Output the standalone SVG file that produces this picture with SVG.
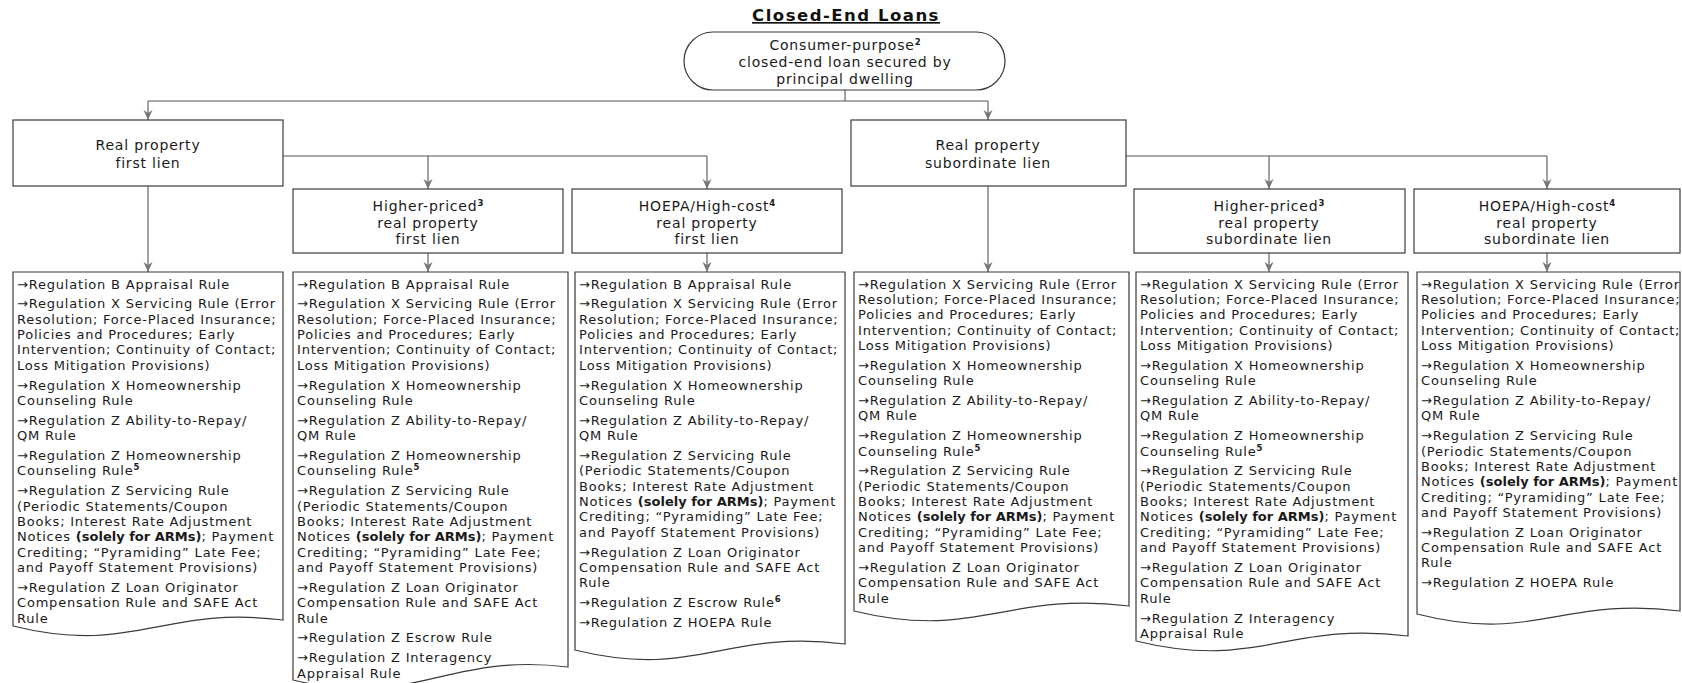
<svg xmlns="http://www.w3.org/2000/svg" width="1682" height="683" viewBox="0 0 1682 683">
<defs>
<marker id="arr" markerUnits="userSpaceOnUse" markerWidth="10" markerHeight="10" viewBox="0 0 10 10" refX="10" refY="5" orient="auto"><path d="M0,0.5 L10,5 L0,9.5 L3,5 Z" fill="#777"/></marker>
<style>
.box{fill:#fff;stroke:#3a3a3a;stroke-width:1.2}
.hd{font-family:"DejaVu Sans","Open Sans",sans-serif;font-size:14px;letter-spacing:0.8px;fill:#1a1a1a;text-anchor:middle}
.bd{font-family:"DejaVu Sans","Open Sans",sans-serif;font-size:13px;letter-spacing:0.8px;fill:#1a1a1a}
.sup{font-size:8.5px;font-weight:bold;letter-spacing:0}
.b{font-weight:bold;letter-spacing:0}
.con{fill:none;stroke:#555;stroke-width:1.1}
.title{font-family:"DejaVu Sans","Open Sans",sans-serif;font-size:16.5px;font-weight:bold;letter-spacing:1.5px;fill:#111;text-anchor:middle;text-decoration:underline}
</style>
</defs>
<rect width="1682" height="683" fill="#fff"/>
<text class="title" x="846" y="21">Closed-End Loans</text>

<g id="connectors">
<path class="con" d="M845,90 V101"/>
<path class="con" d="M148,101 H988"/>
<path class="con" d="M148,101 V120" marker-end="url(#arr)"/>
<path class="con" d="M988,101 V120" marker-end="url(#arr)"/>
<path class="con" d="M283,156 H707"/>
<path class="con" d="M428,156 V189" marker-end="url(#arr)"/>
<path class="con" d="M707,156 V189" marker-end="url(#arr)"/>
<path class="con" d="M1126,156 H1547"/>
<path class="con" d="M1269,156 V189" marker-end="url(#arr)"/>
<path class="con" d="M1547,156 V189" marker-end="url(#arr)"/>
<path class="con" d="M148,186 V272" marker-end="url(#arr)"/>
<path class="con" d="M428,253 V272" marker-end="url(#arr)"/>
<path class="con" d="M707,253 V272" marker-end="url(#arr)"/>
<path class="con" d="M988,186 V272" marker-end="url(#arr)"/>
<path class="con" d="M1269,253 V272" marker-end="url(#arr)"/>
<path class="con" d="M1547,253 V272" marker-end="url(#arr)"/>
</g>

<g id="root">
<rect class="box" x="684" y="32" width="321" height="58" rx="29"/>
<text class="hd"><tspan x="845" y="50">Consumer-purpose<tspan class="sup" baseline-shift="5">2</tspan></tspan><tspan x="845" y="67">closed-end loan secured by</tspan><tspan x="845" y="84">principal dwelling</tspan></text>
</g>

<g id="first-lien">
<rect class="box" x="13" y="120" width="270" height="66"/>
<text class="hd"><tspan x="148" y="149.5">Real property</tspan><tspan x="148" y="167.5">first lien</tspan></text>
</g>
<g id="sub-lien">
<rect class="box" x="851" y="120" width="275" height="66"/>
<text class="hd"><tspan x="988" y="149.5">Real property</tspan><tspan x="988" y="167.5">subordinate lien</tspan></text>
</g>
<g id="hp-first">
<rect class="box" x="293" y="189" width="270" height="64"/>
<text class="hd"><tspan x="428" y="211">Higher-priced<tspan class="sup" baseline-shift="5">3</tspan></tspan><tspan x="428" y="227.5">real property</tspan><tspan x="428" y="244">first lien</tspan></text>
</g>
<g id="hc-first">
<rect class="box" x="572" y="189" width="270" height="64"/>
<text class="hd"><tspan x="707" y="211">HOEPA/High-cost<tspan class="sup" baseline-shift="5">4</tspan></tspan><tspan x="707" y="227.5">real property</tspan><tspan x="707" y="244">first lien</tspan></text>
</g>
<g id="hp-sub">
<rect class="box" x="1134" y="189" width="271" height="64"/>
<text class="hd"><tspan x="1269" y="211">Higher-priced<tspan class="sup" baseline-shift="5">3</tspan></tspan><tspan x="1269" y="227.5">real property</tspan><tspan x="1269" y="244">subordinate lien</tspan></text>
</g>
<g id="hc-sub">
<rect class="box" x="1414" y="189" width="266" height="64"/>
<text class="hd"><tspan x="1547" y="211">HOEPA/High-cost<tspan class="sup" baseline-shift="5">4</tspan></tspan><tspan x="1547" y="227.5">real property</tspan><tspan x="1547" y="244">subordinate lien</tspan></text>
</g>

<g id="rules-first">
<path class="box" d="M13,272 H283 V620 C161.5,605 134.5,656 13,626 Z"/>
<text class="bd">
<tspan x="17" y="288.5">→Regulation B Appraisal Rule</tspan>
<tspan x="17" dy="19.85">→Regulation X Servicing Rule (Error</tspan>
<tspan x="17" dy="15.35">Resolution; Force-Placed Insurance;</tspan>
<tspan x="17" dy="15.35">Policies and Procedures; Early</tspan>
<tspan x="17" dy="15.35">Intervention; Continuity of Contact;</tspan>
<tspan x="17" dy="15.35">Loss Mitigation Provisions)</tspan>
<tspan x="17" dy="19.85">→Regulation X Homeownership</tspan>
<tspan x="17" dy="15.35">Counseling Rule</tspan>
<tspan x="17" dy="19.85">→Regulation Z Ability-to-Repay/</tspan>
<tspan x="17" dy="15.35">QM Rule</tspan>
<tspan x="17" dy="19.85">→Regulation Z Homeownership</tspan>
<tspan x="17" dy="15.35">Counseling Rule<tspan class="sup" baseline-shift="5">5</tspan></tspan>
<tspan x="17" dy="19.85">→Regulation Z Servicing Rule</tspan>
<tspan x="17" dy="15.35">(Periodic Statements/Coupon</tspan>
<tspan x="17" dy="15.35">Books; Interest Rate Adjustment</tspan>
<tspan x="17" dy="15.35">Notices <tspan class="b">(solely for ARMs)</tspan>; Payment</tspan>
<tspan x="17" dy="15.35">Crediting; “Pyramiding” Late Fee;</tspan>
<tspan x="17" dy="15.35">and Payoff Statement Provisions)</tspan>
<tspan x="17" dy="19.85">→Regulation Z Loan Originator</tspan>
<tspan x="17" dy="15.35">Compensation Rule and SAFE Act</tspan>
<tspan x="17" dy="15.35">Rule</tspan>
</text>
</g>

<g id="rules-hp-first">
<path class="box" d="M293,272 H568 V667 C444.25,652 416.75,710 293,680 Z"/>
<text class="bd">
<tspan x="297" y="288.5">→Regulation B Appraisal Rule</tspan>
<tspan x="297" dy="19.85">→Regulation X Servicing Rule (Error</tspan>
<tspan x="297" dy="15.35">Resolution; Force-Placed Insurance;</tspan>
<tspan x="297" dy="15.35">Policies and Procedures; Early</tspan>
<tspan x="297" dy="15.35">Intervention; Continuity of Contact;</tspan>
<tspan x="297" dy="15.35">Loss Mitigation Provisions)</tspan>
<tspan x="297" dy="19.85">→Regulation X Homeownership</tspan>
<tspan x="297" dy="15.35">Counseling Rule</tspan>
<tspan x="297" dy="19.85">→Regulation Z Ability-to-Repay/</tspan>
<tspan x="297" dy="15.35">QM Rule</tspan>
<tspan x="297" dy="19.85">→Regulation Z Homeownership</tspan>
<tspan x="297" dy="15.35">Counseling Rule<tspan class="sup" baseline-shift="5">5</tspan></tspan>
<tspan x="297" dy="19.85">→Regulation Z Servicing Rule</tspan>
<tspan x="297" dy="15.35">(Periodic Statements/Coupon</tspan>
<tspan x="297" dy="15.35">Books; Interest Rate Adjustment</tspan>
<tspan x="297" dy="15.35">Notices <tspan class="b">(solely for ARMs)</tspan>; Payment</tspan>
<tspan x="297" dy="15.35">Crediting; “Pyramiding” Late Fee;</tspan>
<tspan x="297" dy="15.35">and Payoff Statement Provisions)</tspan>
<tspan x="297" dy="19.85">→Regulation Z Loan Originator</tspan>
<tspan x="297" dy="15.35">Compensation Rule and SAFE Act</tspan>
<tspan x="297" dy="15.35">Rule</tspan>
<tspan x="297" dy="19.85">→Regulation Z Escrow Rule</tspan>
<tspan x="297" dy="19.85">→Regulation Z Interagency</tspan>
<tspan x="297" dy="15.35">Appraisal Rule</tspan>
</text>
</g>

<g id="rules-hc-first">
<path class="box" d="M575,272 H845 V644 C723.5,629 696.5,680 575,650 Z"/>
<text class="bd">
<tspan x="579" y="288.5">→Regulation B Appraisal Rule</tspan>
<tspan x="579" dy="19.85">→Regulation X Servicing Rule (Error</tspan>
<tspan x="579" dy="15.35">Resolution; Force-Placed Insurance;</tspan>
<tspan x="579" dy="15.35">Policies and Procedures; Early</tspan>
<tspan x="579" dy="15.35">Intervention; Continuity of Contact;</tspan>
<tspan x="579" dy="15.35">Loss Mitigation Provisions)</tspan>
<tspan x="579" dy="19.85">→Regulation X Homeownership</tspan>
<tspan x="579" dy="15.35">Counseling Rule</tspan>
<tspan x="579" dy="19.85">→Regulation Z Ability-to-Repay/</tspan>
<tspan x="579" dy="15.35">QM Rule</tspan>
<tspan x="579" dy="19.85">→Regulation Z Servicing Rule</tspan>
<tspan x="579" dy="15.35">(Periodic Statements/Coupon</tspan>
<tspan x="579" dy="15.35">Books; Interest Rate Adjustment</tspan>
<tspan x="579" dy="15.35">Notices <tspan class="b">(solely for ARMs)</tspan>; Payment</tspan>
<tspan x="579" dy="15.35">Crediting; “Pyramiding” Late Fee;</tspan>
<tspan x="579" dy="15.35">and Payoff Statement Provisions)</tspan>
<tspan x="579" dy="19.85">→Regulation Z Loan Originator</tspan>
<tspan x="579" dy="15.35">Compensation Rule and SAFE Act</tspan>
<tspan x="579" dy="15.35">Rule</tspan>
<tspan x="579" dy="19.85">→Regulation Z Escrow Rule<tspan class="sup" baseline-shift="5">6</tspan></tspan>
<tspan x="579" dy="19.85">→Regulation Z HOEPA Rule</tspan>
</text>
</g>

<g id="rules-sub">
<path class="box" d="M854,272 H1129 V606 C1005.25,591 977.75,641 854,611 Z"/>
<text class="bd">
<tspan x="858" y="288.5">→Regulation X Servicing Rule (Error</tspan>
<tspan x="858" dy="15.35">Resolution; Force-Placed Insurance;</tspan>
<tspan x="858" dy="15.35">Policies and Procedures; Early</tspan>
<tspan x="858" dy="15.35">Intervention; Continuity of Contact;</tspan>
<tspan x="858" dy="15.35">Loss Mitigation Provisions)</tspan>
<tspan x="858" dy="19.85">→Regulation X Homeownership</tspan>
<tspan x="858" dy="15.35">Counseling Rule</tspan>
<tspan x="858" dy="19.85">→Regulation Z Ability-to-Repay/</tspan>
<tspan x="858" dy="15.35">QM Rule</tspan>
<tspan x="858" dy="19.85">→Regulation Z Homeownership</tspan>
<tspan x="858" dy="15.35">Counseling Rule<tspan class="sup" baseline-shift="5">5</tspan></tspan>
<tspan x="858" dy="19.85">→Regulation Z Servicing Rule</tspan>
<tspan x="858" dy="15.35">(Periodic Statements/Coupon</tspan>
<tspan x="858" dy="15.35">Books; Interest Rate Adjustment</tspan>
<tspan x="858" dy="15.35">Notices <tspan class="b">(solely for ARMs)</tspan>; Payment</tspan>
<tspan x="858" dy="15.35">Crediting; “Pyramiding” Late Fee;</tspan>
<tspan x="858" dy="15.35">and Payoff Statement Provisions)</tspan>
<tspan x="858" dy="19.85">→Regulation Z Loan Originator</tspan>
<tspan x="858" dy="15.35">Compensation Rule and SAFE Act</tspan>
<tspan x="858" dy="15.35">Rule</tspan>
</text>
</g>

<g id="rules-hp-sub">
<path class="box" d="M1136,272 H1408 V636 C1285.6,621 1258.4,671 1136,641 Z"/>
<text class="bd">
<tspan x="1140" y="288.5">→Regulation X Servicing Rule (Error</tspan>
<tspan x="1140" dy="15.35">Resolution; Force-Placed Insurance;</tspan>
<tspan x="1140" dy="15.35">Policies and Procedures; Early</tspan>
<tspan x="1140" dy="15.35">Intervention; Continuity of Contact;</tspan>
<tspan x="1140" dy="15.35">Loss Mitigation Provisions)</tspan>
<tspan x="1140" dy="19.85">→Regulation X Homeownership</tspan>
<tspan x="1140" dy="15.35">Counseling Rule</tspan>
<tspan x="1140" dy="19.85">→Regulation Z Ability-to-Repay/</tspan>
<tspan x="1140" dy="15.35">QM Rule</tspan>
<tspan x="1140" dy="19.85">→Regulation Z Homeownership</tspan>
<tspan x="1140" dy="15.35">Counseling Rule<tspan class="sup" baseline-shift="5">5</tspan></tspan>
<tspan x="1140" dy="19.85">→Regulation Z Servicing Rule</tspan>
<tspan x="1140" dy="15.35">(Periodic Statements/Coupon</tspan>
<tspan x="1140" dy="15.35">Books; Interest Rate Adjustment</tspan>
<tspan x="1140" dy="15.35">Notices <tspan class="b">(solely for ARMs)</tspan>; Payment</tspan>
<tspan x="1140" dy="15.35">Crediting; “Pyramiding” Late Fee;</tspan>
<tspan x="1140" dy="15.35">and Payoff Statement Provisions)</tspan>
<tspan x="1140" dy="19.85">→Regulation Z Loan Originator</tspan>
<tspan x="1140" dy="15.35">Compensation Rule and SAFE Act</tspan>
<tspan x="1140" dy="15.35">Rule</tspan>
<tspan x="1140" dy="19.85">→Regulation Z Interagency</tspan>
<tspan x="1140" dy="15.35">Appraisal Rule</tspan>
</text>
</g>

<g id="rules-hc-sub">
<path class="box" d="M1417,272 H1680 V611 C1561.65,596 1535.35,644 1417,614 Z"/>
<text class="bd">
<tspan x="1421" y="288.5">→Regulation X Servicing Rule (Error</tspan>
<tspan x="1421" dy="15.35">Resolution; Force-Placed Insurance;</tspan>
<tspan x="1421" dy="15.35">Policies and Procedures; Early</tspan>
<tspan x="1421" dy="15.35">Intervention; Continuity of Contact;</tspan>
<tspan x="1421" dy="15.35">Loss Mitigation Provisions)</tspan>
<tspan x="1421" dy="19.85">→Regulation X Homeownership</tspan>
<tspan x="1421" dy="15.35">Counseling Rule</tspan>
<tspan x="1421" dy="19.85">→Regulation Z Ability-to-Repay/</tspan>
<tspan x="1421" dy="15.35">QM Rule</tspan>
<tspan x="1421" dy="19.85">→Regulation Z Servicing Rule</tspan>
<tspan x="1421" dy="15.35">(Periodic Statements/Coupon</tspan>
<tspan x="1421" dy="15.35">Books; Interest Rate Adjustment</tspan>
<tspan x="1421" dy="15.35">Notices <tspan class="b">(solely for ARMs)</tspan>; Payment</tspan>
<tspan x="1421" dy="15.35">Crediting; “Pyramiding” Late Fee;</tspan>
<tspan x="1421" dy="15.35">and Payoff Statement Provisions)</tspan>
<tspan x="1421" dy="19.85">→Regulation Z Loan Originator</tspan>
<tspan x="1421" dy="15.35">Compensation Rule and SAFE Act</tspan>
<tspan x="1421" dy="15.35">Rule</tspan>
<tspan x="1421" dy="19.85">→Regulation Z HOEPA Rule</tspan>
</text>
</g>
</svg>
